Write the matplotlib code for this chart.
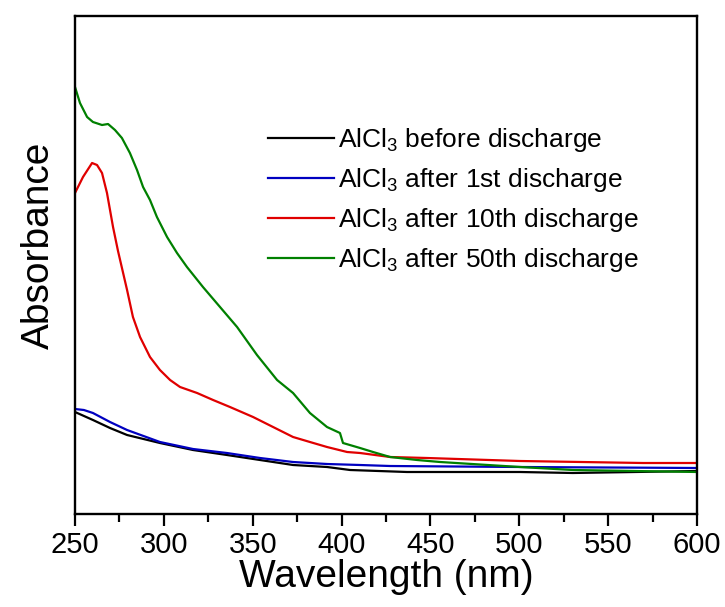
import numpy as np
import matplotlib.pyplot as plt
from matplotlib.ticker import MultipleLocator

plt.rcParams["font.family"] = ["Liberation Sans", "DejaVu Sans"]
plt.rcParams["mathtext.fontset"] = "custom"
plt.rcParams["mathtext.rm"] = "Liberation Sans"
plt.rcParams["mathtext.it"] = "Liberation Sans"

# ------------------------------------------------------------
# Data (wavelength in nm, absorbance a.u.)
# ------------------------------------------------------------

wl_before = [250, 260.1, 269.7, 279.3, 297.8, 316.4, 335.5, 354.1, 372.7,
             391.8, 404.8, 436.8, 500.4, 530.2, 600]
abs_before = [0.204, 0.188, 0.172, 0.158, 0.142, 0.128, 0.118, 0.108, 0.098,
              0.094, 0.088, 0.084, 0.084, 0.082, 0.086]

wl_1st = [250, 255, 260.1, 269.7, 279.3, 297.8, 316.4, 335.5, 354.1, 372.7,
          391.8, 410.4, 427.3, 500.4, 600]
abs_1st = [0.210, 0.208, 0.202, 0.184, 0.168, 0.144, 0.130, 0.122, 0.112, 0.104,
           0.100, 0.098, 0.096, 0.094, 0.092]

wl_10th = [250, 254.5, 259.6, 262.4, 265.2, 268, 269.7, 271.4, 274.2, 279.3,
           282.6, 286.6, 292.2, 297.8, 303.5, 309.1, 318.7, 327.7, 337.2, 350.2,
           363.7, 372.7, 382.2, 391.8, 403.1, 410.4, 427.3, 448.1, 500.4, 569.6,
           600]
abs_10th = [0.642, 0.674, 0.702, 0.698, 0.682, 0.642, 0.608, 0.574, 0.526, 0.448,
            0.394, 0.354, 0.314, 0.288, 0.268, 0.254, 0.242, 0.228, 0.214, 0.194,
            0.170, 0.154, 0.144, 0.134, 0.124, 0.122, 0.114, 0.112, 0.106, 0.102,
            0.102]

wl_50th = [250, 252.8, 256.8, 260.1, 265.2, 268.6, 272.5, 276.4, 280.9, 284.9,
           288.3, 292.2, 296.1, 301.8, 307.4, 313.0, 322.0, 331.6, 341.2, 352.4,
           363.7, 372.7, 382.2, 391.8, 399.1, 400.8, 410.4, 417.7, 427.3, 442.5,
           455.4, 500.4, 530.2, 600]
abs_50th = [0.854, 0.822, 0.794, 0.784, 0.778, 0.780, 0.768, 0.752, 0.722, 0.688,
            0.654, 0.628, 0.594, 0.554, 0.522, 0.494, 0.454, 0.414, 0.374, 0.318,
            0.268, 0.242, 0.202, 0.174, 0.162, 0.142, 0.132, 0.124, 0.114, 0.108,
            0.104, 0.094, 0.088, 0.084]

labels = [
    r"AlCl$_3$ before discharge",
    r"AlCl$_3$ after 1st discharge",
    r"AlCl$_3$ after 10th discharge",
    r"AlCl$_3$ after 50th discharge",
]
colors = ["#000000", "#0000c0", "#e00000", "#008000"]

# ------------------------------------------------------------
# Plot
# ------------------------------------------------------------

fig = plt.figure(figsize=(7.25, 6.07), dpi=100)
ax = fig.add_axes([75 / 725, 1 - 514 / 607, 622 / 725, 498 / 607])

series = [(wl_before, abs_before), (wl_1st, abs_1st),
          (wl_10th, abs_10th), (wl_50th, abs_50th)]
for (x, y), lab, c in zip(series, labels, colors):
    ax.plot(x, y, color=c, linewidth=1.6, label=lab)

ax.set_xlim(250, 600)
ax.set_ylim(0, 0.996)
ax.xaxis.set_major_locator(MultipleLocator(50))
ax.xaxis.set_minor_locator(MultipleLocator(25))
ax.set_yticks([])

for sp in ax.spines.values():
    sp.set_linewidth(1.7)

ax.tick_params(axis="x", which="major", direction="out", length=8.5, width=1.6,
               labelsize=21, pad=4)
ax.tick_params(axis="x", which="minor", direction="out", length=6, width=1.6)

ax.set_xlabel("Wavelength (nm)", fontsize=28, labelpad=0)
ax.set_ylabel("Absorbance", fontsize=28)
ax.yaxis.set_label_coords(-0.029, 0.54)

ax.legend(loc="upper left", bbox_to_anchor=(0.294, 0.8), frameon=False,
          fontsize=19, handlelength=2.5, handletextpad=0.15,
          labelspacing=0.45, borderaxespad=0)

fig.savefig("out.png", dpi=100)
